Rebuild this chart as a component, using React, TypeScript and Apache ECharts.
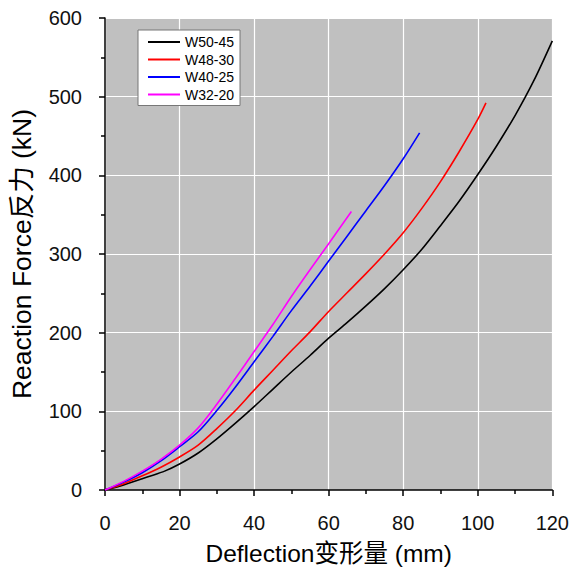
import React, { useEffect, useRef } from "react";
import * as echarts from "echarts";

const seriesNames = ["W50-45", "W48-30", "W40-25", "W32-20"];
const seriesColors = ["#000000", "#ff0000", "#0000ff", "#ff00ff"];

const w5045: number[][] = [
  [0, 0], [5, 6.5], [12, 17.5], [16, 24], [20, 33], [25, 47], [30, 65], [35, 85], [40, 106],
  [45, 128], [50, 150], [55, 171], [60, 193], [65, 213], [70, 234], [75, 256],
  [80, 280], [85, 306], [90, 336], [95, 367], [100, 401], [105, 437], [110, 476],
  [115, 520], [120, 571],
];
const w4830: number[][] = [
  [0, 0], [5, 8], [10, 18], [15, 29], [20, 42], [25, 57], [30, 78], [35, 101],
  [40, 127], [45, 152], [50, 177], [55, 201], [60, 227], [65, 251], [70, 275],
  [75, 300], [80, 327], [85, 358], [90, 392], [95, 430], [100, 471], [102.2, 492],
];
const w4025: number[][] = [
  [0, 0], [5, 10], [10, 22], [15, 37], [20, 55], [25, 74], [30, 101], [35, 131],
  [40, 163], [45, 195], [50, 228], [55, 259], [60, 291], [65, 323], [70, 355],
  [75, 387], [80, 421], [84.4, 454],
];
const w3220: number[][] = [
  [0, 0], [5, 11], [10, 24], [15, 39], [20, 57], [25, 79], [30, 109], [35, 142],
  [40, 176], [45, 210], [50, 246], [55, 280], [60, 313], [66.1, 354],
];
const allData = [w5045, w4830, w4025, w3220];

const xName = "Deflection变形量 (mm)";
const yName = "Reaction Force反力 (kN)";

const FONT = '"Liberation Sans", Arial, "Noto Sans CJK SC", sans-serif';

export default function App() {
  const ref = useRef<HTMLDivElement>(null);
  useEffect(() => {
    if (!ref.current) return;
    const chart = echarts.init(ref.current, undefined, { renderer: "svg" });
    chart.setOption({
      animation: false,
      backgroundColor: "#ffffff",
      textStyle: { fontFamily: FONT },
      grid: {
        left: 105,
        top: 18,
        width: 448,
        height: 472,
        show: true,
        backgroundColor: "#c0c0c0",
        borderWidth: 0,
      },
      legend: {
        orient: "vertical",
        left: 138,
        top: 30,
        data: seriesNames,
        icon: "rect",
        backgroundColor: "#ffffff",
        borderColor: "#777777",
        borderWidth: 1,
        borderRadius: 0,
        padding: [5, 6, 4, 10],
        itemWidth: 32,
        itemHeight: 2,
        itemGap: 3.5,
        textStyle: { fontFamily: FONT, fontSize: 14, color: "#000000", lineHeight: 14 },
      },
      xAxis: {
        type: "value",
        min: 0,
        max: 120,
        interval: 20,
        name: xName,
        nameLocation: "middle",
        nameGap: 51,
        nameTextStyle: { fontFamily: FONT, fontSize: 24.5, color: "#000000" },
        axisLine: { show: true, onZero: false, lineStyle: { color: "#000000", width: 1.5 } },
        axisTick: { show: true, inside: false, length: 6, lineStyle: { color: "#000000", width: 1.5 } },
        minorTick: { show: true, splitNumber: 2, length: 4, lineStyle: { color: "#000000", width: 1.5 } },
        axisLabel: { fontFamily: FONT, fontSize: 20, color: "#111111", margin: 23 },
        splitLine: { show: true, lineStyle: { color: "#ffffff", width: 1.2 } },
      },
      yAxis: {
        type: "value",
        min: 0,
        max: 600,
        interval: 100,
        name: yName,
        nameLocation: "middle",
        nameGap: 70,
        nameTextStyle: { fontFamily: FONT, fontSize: 26.5, color: "#000000" },
        axisLine: { show: true, onZero: false, lineStyle: { color: "#000000", width: 1.5 } },
        axisTick: { show: true, inside: false, length: 6, lineStyle: { color: "#000000", width: 1.5 } },
        minorTick: { show: true, splitNumber: 2, length: 4, lineStyle: { color: "#000000", width: 1.5 } },
        axisLabel: { fontFamily: FONT, fontSize: 20, color: "#111111", margin: 23 },
        splitLine: { show: true, lineStyle: { color: "#ffffff", width: 1.2 } },
      },
      series: seriesNames.map((name, i) => ({
        name,
        type: "line",
        data: allData[i],
        symbol: "none",
        smooth: 0.3,
        color: seriesColors[i],
        lineStyle: { color: seriesColors[i], width: 1.6 },
      })),
    });
    return () => chart.dispose();
  }, []);
  return (
    <div
      ref={ref}
      style={{ position: "fixed", left: 0, top: 0, width: 572, height: 572 }}
    />
  );
}
